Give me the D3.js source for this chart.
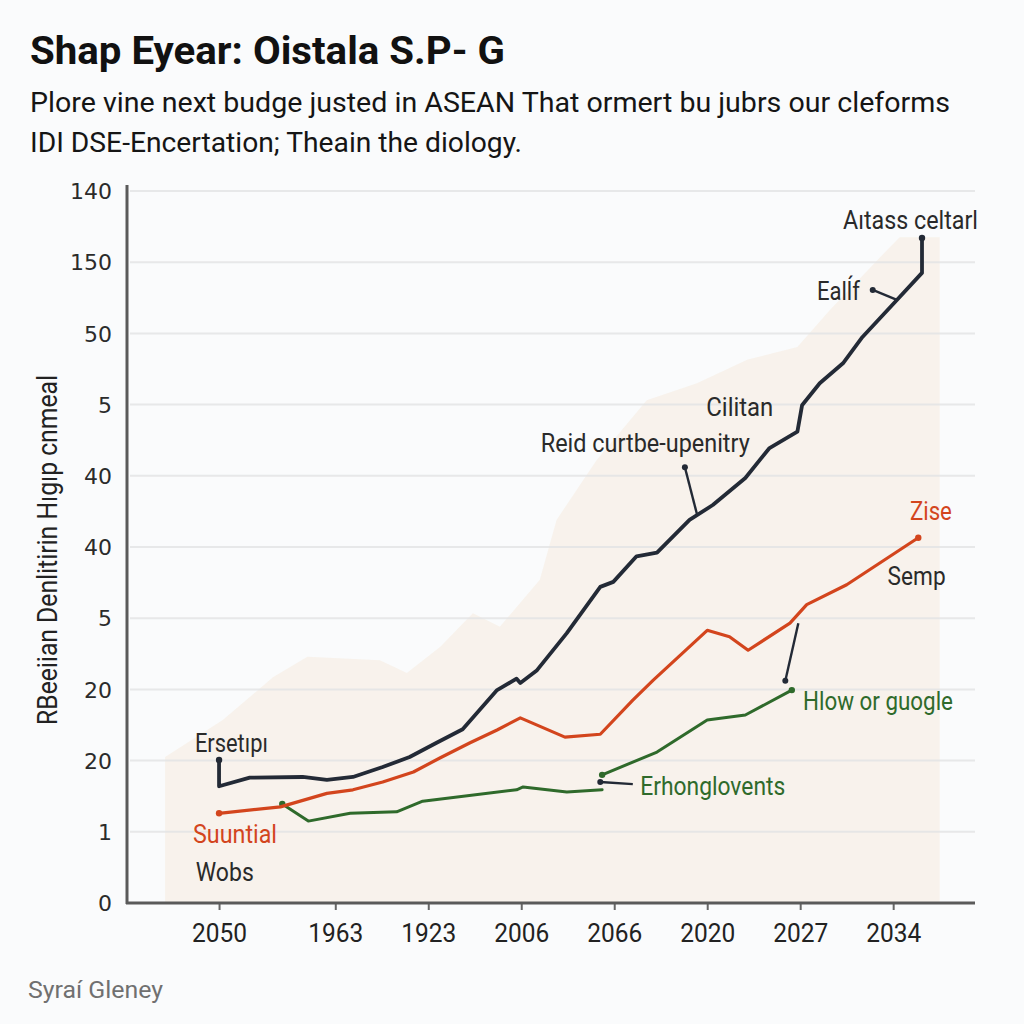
<!DOCTYPE html>
<html><head><meta charset="utf-8">
<script src="https://cdn.jsdelivr.net/npm/d3@7"></script>
<style>
html,body{margin:0;padding:0;background:#fafbfc;}
svg{display:block;}
</style></head>
<body>
<svg id="chart" width="1024" height="1024"></svg>
<script>
// ---------- data ----------
const titleText = "Shap Eyear: Oistala S.P- G";
const subtitleLines = ["Plore vine next budge justed in ASEAN That ormert bu jubrs our cleforms",
                       "IDI DSE-Encertation;  Theain the diology."];
const yAxisTitle = "RBeeiian  Denlitirin Hıgıp cnmeal";
const footerText = "Syraí Gleney";

const xTickPos = [0, 1.25, 2.25, 3.25, 4.25, 5.25, 6.25, 7.25];
const xTickLabels = ["2050", "1963", "1923", "2006", "2066", "2020", "2027", "2034"];
const yTickLevels = [0, 1, 2, 3, 4, 5, 6, 7, 8, 9, 10];
const yTickLabels = ["0", "1", "20", "20", "5", "40", "40", "5", "50", "150", "140"];

// dark series
const darkT = [0, 0, 0.33, 0.90, 1.16, 1.44, 1.76, 2.05, 2.34, 2.62, 2.99, 3.20, 3.24, 3.42, 3.74, 4.10, 4.24, 4.49, 4.71, 5.06, 5.31, 5.66, 5.92, 6.22, 6.27, 6.46, 6.71, 6.92, 7.29, 7.56, 7.56];
const darkV = [2.01, 1.64, 1.76, 1.77, 1.73, 1.77, 1.91, 2.05, 2.25, 2.44, 2.99, 3.15, 3.09, 3.27, 3.79, 4.44, 4.51, 4.87, 4.92, 5.38, 5.59, 5.97, 6.39, 6.62, 6.99, 7.30, 7.58, 7.95, 8.47, 8.85, 9.34];
// red series
const redT = [0, 0.66, 1.16, 1.44, 1.76, 2.09, 2.38, 2.70, 2.99, 3.24, 3.72, 4.10, 4.45, 4.67, 5.25, 5.49, 5.69, 6.14, 6.32, 6.75, 7.52];
const redV = [1.26, 1.35, 1.54, 1.59, 1.70, 1.84, 2.04, 2.25, 2.43, 2.60, 2.33, 2.37, 2.85, 3.13, 3.83, 3.74, 3.55, 3.93, 4.19, 4.47, 5.13];
// green series (two segments)
const greenAT = [0.68, 0.96, 1.41, 1.91, 2.19, 3.20, 3.27, 3.74, 4.12];
const greenAV = [1.39, 1.15, 1.26, 1.28, 1.43, 1.59, 1.63, 1.56, 1.59];
const greenBT = [4.12, 4.71, 5.25, 5.66, 6.16];
const greenBV = [1.80, 2.12, 2.57, 2.64, 2.99];
// background area
const areaT = [-0.58, -0.58, 0.04, 0.58, 0.95, 1.73, 2.02, 2.38, 2.73, 3.02, 3.45, 3.63, 4.06, 4.60, 5.14, 5.68, 6.22, 6.57, 7.11, 7.32, 7.75, 7.75];
const areaV = [0, 2.05, 2.57, 3.17, 3.46, 3.41, 3.23, 3.60, 4.07, 3.88, 4.54, 5.38, 6.22, 7.06, 7.30, 7.63, 7.81, 8.33, 9.07, 9.35, 9.35, 0];
// connector leaders [t1, v1, t2, v2]
const leaders = [[4.10, 1.70, 4.45, 1.67], [6.09, 3.12, 6.23, 3.93], [5.01, 6.12, 5.14, 5.46], [7.03, 8.61, 7.29, 8.47]];
// annotation labels
const labelText = ["Ersetıpı", "Suuntial", "Wobs", "Reid curtbe-upenitry", "Cilitan", "Ealĺf", "Aıtass celtarl", "Zise", "Semp", "Hlow or guogle", "Erhonglovents"];
const labelT = [-0.26, -0.28, -0.25, 3.46, 5.24, 6.43, 6.71, 7.43, 7.19, 6.28, 4.53];
const labelV = [2.12, 0.84, 0.31, 6.33, 6.84, 8.47, 9.47, 5.38, 4.47, 2.71, 1.51];
const labelKind = ["dark", "red", "dark", "dark", "dark", "dark", "dark", "red", "dark", "green", "green"];
const labelWidth = [73, 84, 58, 209, 67, 43, 135, 42, 58, 150, 145];

// ---------- drawing ----------
const colors = {dark: "#232a36", red: "#d3451d", green: "#2f6a2b"};
const svg = d3.select("#chart");
const M = {left: 127, right: 975, top: 185, bottom: 903};
const x = d3.scaleLinear().domain([-0.99, 8.13]).range([M.left, M.right]);
const y = d3.scaleLinear().domain([0, 10]).range([M.bottom, 191]);

// area
const areaPts = areaT.map((t, i) => [x(t), y(areaV[i])]);
svg.append("path").attr("d", d3.line()(areaPts) + "Z")
  .attr("fill", "#f5ebde").attr("opacity", 0.55);

// grid
svg.append("g").selectAll("line").data(yTickLevels.slice(1)).join("line")
  .attr("x1", M.left + 3).attr("x2", M.right)
  .attr("y1", d => y(d)).attr("y2", d => y(d))
  .attr("stroke", "#e4e5e6").attr("stroke-width", 2).attr("opacity", 0.85);

// axes
const yAxis = d3.axisLeft(y).tickValues(yTickLevels).tickFormat((d, i) => yTickLabels[i]).tickSize(0).tickPadding(15);
const gy = svg.append("g").attr("transform", `translate(${M.left},0)`).call(yAxis);
gy.select(".domain").remove();
gy.selectAll("text").attr("font-family", "DejaVu Sans, sans-serif").attr("font-size", 22).attr("fill", "#2b2b2b").attr("dy", "0.35em");

const xAxis = d3.axisBottom(x).tickValues(xTickPos).tickFormat((d, i) => xTickLabels[i]).tickSize(7).tickPadding(14);
const gx = svg.append("g").attr("transform", `translate(0,${M.bottom})`).call(xAxis);
gx.select(".domain").remove();
gx.selectAll(".tick line").attr("stroke", "#666").attr("stroke-width", 2);
gx.selectAll("text").attr("font-family", "Roboto, sans-serif").attr("font-size", 26).attr("fill", "#222")
  .attr("textLength", 55).attr("lengthAdjust", "spacingAndGlyphs");

svg.append("line").attr("x1", M.left).attr("x2", M.left).attr("y1", M.top).attr("y2", M.bottom + 1)
  .attr("stroke", "#5a5a5a").attr("stroke-width", 3);
svg.append("line").attr("x1", M.left - 1).attr("x2", M.right).attr("y1", M.bottom).attr("y2", M.bottom)
  .attr("stroke", "#5a5a5a").attr("stroke-width", 3);

// lines
const line = d3.line();
function drawSeries(T, V, color, w, dots) {
  const pts = T.map((t, i) => [x(t), y(V[i])]);
  svg.append("path").attr("d", line(pts)).attr("fill", "none").attr("stroke", color)
    .attr("stroke-width", w).attr("stroke-linejoin", "round").attr("stroke-linecap", "round");
  svg.append("g").selectAll("circle").data(dots.map(k => pts[k])).join("circle")
    .attr("cx", d => d[0]).attr("cy", d => d[1]).attr("r", 3.2).attr("fill", color);
}
drawSeries(greenAT, greenAV, colors.green, 3, [0]);
drawSeries(greenBT, greenBV, colors.green, 3, [0, greenBT.length - 1]);
drawSeries(redT, redV, colors.red, 3.2, [0, redT.length - 1]);
drawSeries(darkT, darkV, colors.dark, 3.8, [0, darkT.length - 1]);

// leaders
svg.append("g").selectAll("line").data(leaders).join("line")
  .attr("x1", d => x(d[0])).attr("y1", d => y(d[1])).attr("x2", d => x(d[2])).attr("y2", d => y(d[3]))
  .attr("stroke", colors.dark).attr("stroke-width", 2.4);
svg.append("g").selectAll("circle").data(leaders).join("circle")
  .attr("cx", d => x(d[0])).attr("cy", d => y(d[1])).attr("r", 3).attr("fill", colors.dark);

// labels
svg.append("g").selectAll("text").data(labelText).join("text")
  .attr("x", (d, i) => x(labelT[i])).attr("y", (d, i) => y(labelV[i]))
  .attr("font-family", "Roboto, sans-serif").attr("font-size", 25)
  .attr("fill", (d, i) => labelKind[i] === "dark" ? "#2a2a2a" : colors[labelKind[i]])
  .attr("textLength", (d, i) => labelWidth[i]).attr("lengthAdjust", "spacingAndGlyphs")
  .text(d => d);

// title etc
svg.append("text").attr("x", 30).attr("y", 64).attr("font-family", "Roboto, sans-serif")
  .attr("font-weight", "bold").attr("font-size", 39).attr("fill", "#111")
  .attr("textLength", 475).attr("lengthAdjust", "spacingAndGlyphs").text(titleText);
svg.append("g").selectAll("text").data(subtitleLines).join("text")
  .attr("x", 30).attr("y", (d, i) => 112 + i * 40).attr("font-family", "Roboto, sans-serif")
  .attr("font-size", 28).attr("fill", "#151515")
  .attr("textLength", (d, i) => i === 0 ? 920 : 492).attr("lengthAdjust", "spacingAndGlyphs").text(d => d);
svg.append("text").attr("transform", "translate(57,550) rotate(-90)").attr("text-anchor", "middle")
  .attr("font-family", "Roboto, sans-serif").attr("font-size", 27).attr("fill", "#222")
  .attr("textLength", 350).attr("lengthAdjust", "spacingAndGlyphs").text(yAxisTitle);
svg.append("text").attr("x", 28).attr("y", 998).attr("font-family", "Roboto, sans-serif")
  .attr("font-size", 23).attr("fill", "#707070")
  .attr("textLength", 135).attr("lengthAdjust", "spacingAndGlyphs").text(footerText);
</script>
</body></html>
